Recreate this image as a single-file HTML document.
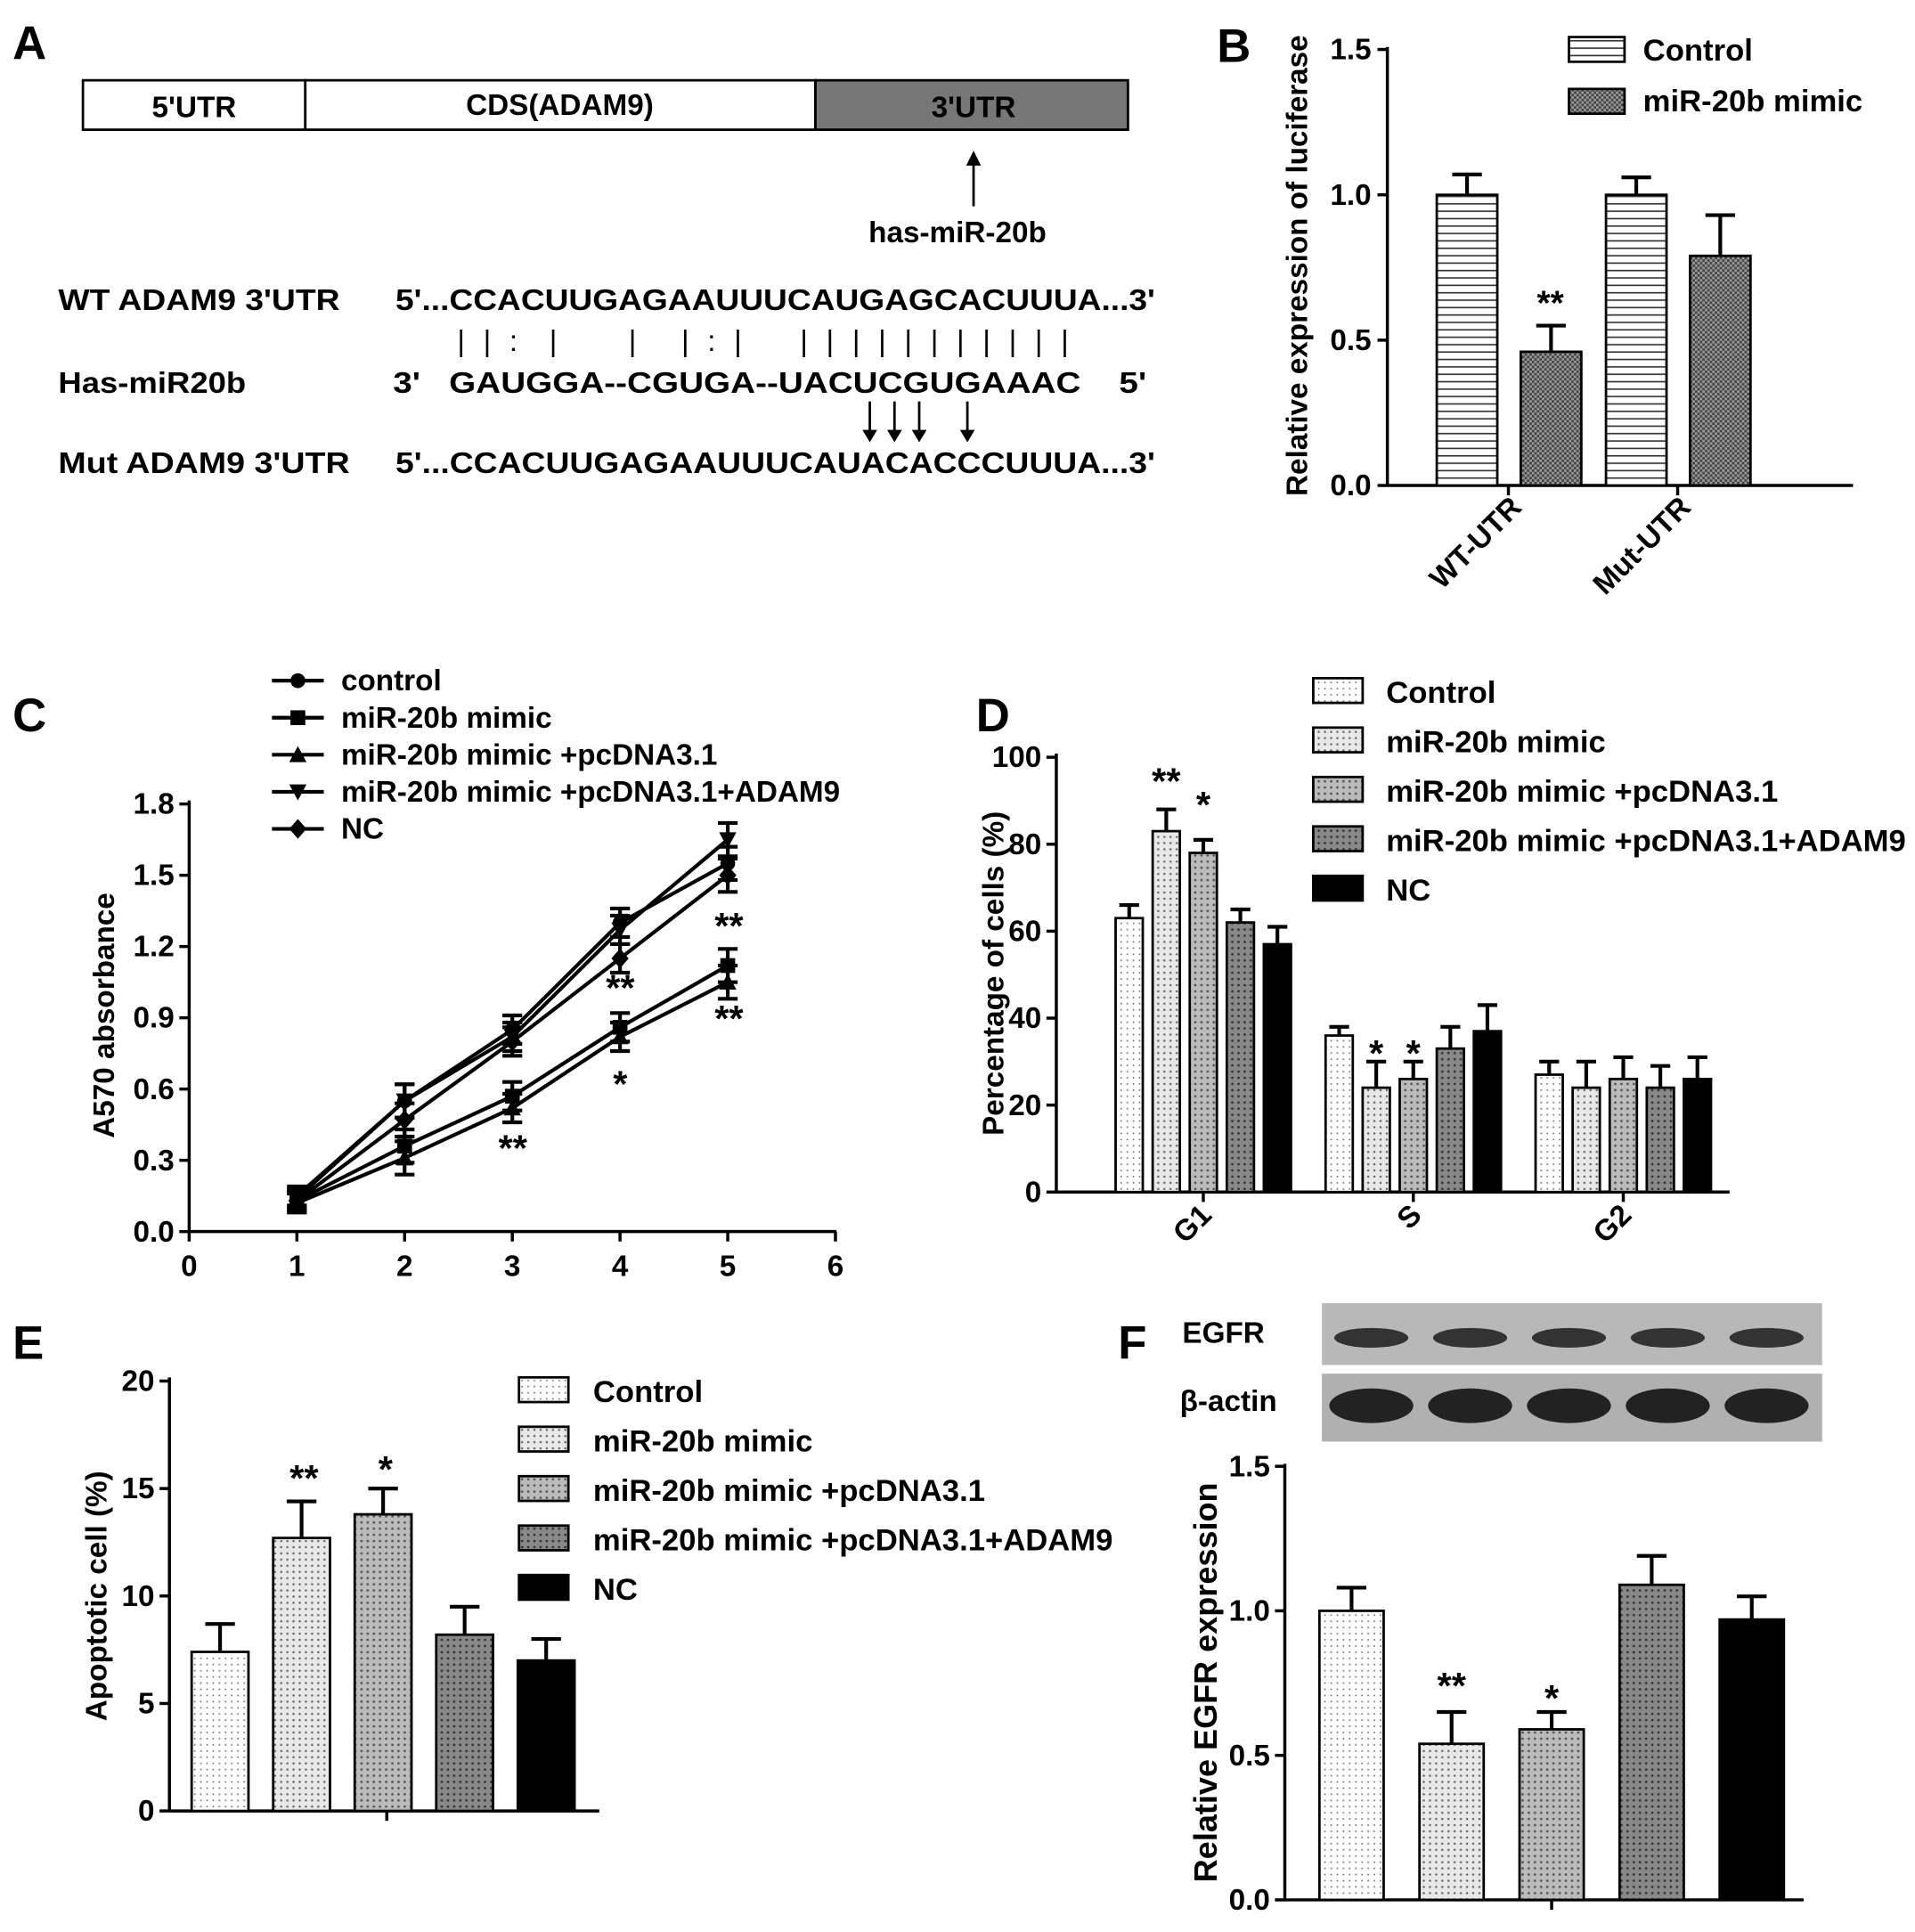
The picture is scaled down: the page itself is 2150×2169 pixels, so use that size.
<!DOCTYPE html>
<html><head><meta charset="utf-8"><style>
body{margin:0;background:#fff}
svg{display:block;font-family:"Liberation Sans",Arial,sans-serif;font-weight:bold}
</style></head><body>
<svg id="s" width="2150" height="2169" viewBox="0 0 1550 1564" xmlns="http://www.w3.org/2000/svg">
<defs>
<pattern id="hstripe" width="6" height="6" patternUnits="userSpaceOnUse"><rect width="6" height="6" fill="#fff"/><line x1="0" y1="3" x2="6" y2="3" stroke="#333" stroke-width="1.2"/></pattern>
<pattern id="check" width="4" height="4" patternUnits="userSpaceOnUse"><rect width="4" height="4" fill="#999"/><rect width="2" height="2" fill="#444"/><rect x="2" y="2" width="2" height="2" fill="#444"/></pattern>
<pattern id="p0" width="5" height="5" patternUnits="userSpaceOnUse"><rect width="5" height="5" fill="#fff"/><circle cx="2.5" cy="2.5" r="0.7" fill="#777"/></pattern>
<pattern id="p1" width="5" height="5" patternUnits="userSpaceOnUse"><rect width="5" height="5" fill="#e8e8e8"/><circle cx="2.5" cy="2.5" r="0.9" fill="#666"/></pattern>
<pattern id="p2" width="5" height="5" patternUnits="userSpaceOnUse"><rect width="5" height="5" fill="#bbb"/><circle cx="2.5" cy="2.5" r="1" fill="#555"/></pattern>
<pattern id="p3" width="5" height="5" patternUnits="userSpaceOnUse"><rect width="5" height="5" fill="#888"/><circle cx="2.5" cy="2.5" r="1" fill="#333"/></pattern>
<pattern id="p4" width="5" height="5" patternUnits="userSpaceOnUse"><rect width="5" height="5" fill="#000"/></pattern>
</defs>
<g id="A" font-size="24">
<text x="10" y="48" font-size="38">A</text>
<rect x="67" y="65" width="180" height="40" fill="#fff" stroke="#000" stroke-width="2"/>
<rect x="247" y="65" width="413" height="40" fill="#fff" stroke="#000" stroke-width="2"/>
<rect x="660" y="65" width="253" height="40" fill="#777" stroke="#000" stroke-width="2"/>
<text x="157" y="95" text-anchor="middle">5'UTR</text>
<text x="453" y="93" text-anchor="middle">CDS(ADAM9)</text>
<text x="788" y="95" text-anchor="middle">3'UTR</text>
<line x1="788" y1="167" x2="788" y2="130" stroke="#000" stroke-width="2"/><path d="M782,134 L788,122 L794,134Z"/>
<text x="775" y="196" text-anchor="middle">has-miR-20b</text>
<text x="47" y="251" textLength="228" lengthAdjust="spacingAndGlyphs">WT ADAM9 3'UTR</text>
<text x="47" y="318" textLength="152" lengthAdjust="spacingAndGlyphs">Has-miR20b</text>
<text x="47" y="383" textLength="236" lengthAdjust="spacingAndGlyphs">Mut ADAM9 3'UTR</text>
<text x="320" y="251" textLength="615" lengthAdjust="spacingAndGlyphs">5'...CCACUUGAGAAUUUCAUGAGCACUUUA...3'</text>
<text x="370" y="284" xml:space="preserve" font-weight="normal" textLength="495" lengthAdjust="spacing">| | :  |     |   | : |    | | | | | | | | | | |</text>
<text x="318" y="318" xml:space="preserve" textLength="610" lengthAdjust="spacingAndGlyphs">3'   GAUGGA--CGUGA--UACUCGUGAAAC    5'</text>
<text x="320" y="383" textLength="615" lengthAdjust="spacingAndGlyphs">5'...CCACUUGAGAAUUUCAUACACCCUUUA...3'</text>
<g stroke="#000" stroke-width="2"><line x1="704" y1="325" x2="704" y2="352"/><line x1="724" y1="325" x2="724" y2="352"/><line x1="744" y1="325" x2="744" y2="352"/><line x1="783" y1="325" x2="783" y2="352"/></g>
<path d="M698,348L704,358L710,348ZM718,348L724,358L730,348ZM738,348L744,358L750,348ZM777,348L783,358L789,348Z"/>
</g>
<g id="B"></g>
<g id="C"></g>
<g id="D"></g>
<g id="E"></g>
<g id="F"></g>
</svg>
<script>
// Panel B data
const bCats=["WT-UTR","Mut-UTR"];
const bControl=[1.0,1.0];
const bMimic=[0.46,0.79];
const bCtrlErr=[0.07,0.06];
const bMimErr=[0.09,0.14];
const bTicks=[0,0.5,1.0,1.5];
// Panel C data
const cX=[1,2,3,4,5];
const cNames=["control","miR-20b mimic","miR-20b mimic +pcDNA3.1","miR-20b mimic +pcDNA3.1+ADAM9","NC"];
const cControl=[0.15,0.55,0.85,1.30,1.55];
const cMimic=[0.13,0.36,0.57,0.86,1.12];
const cPc=[0.12,0.31,0.52,0.82,1.05];
const cAdam=[0.14,0.55,0.82,1.27,1.65];
const cNC=[0.13,0.47,0.80,1.15,1.50];
const cErr=[0.04,0.07,0.06,0.06,0.07];
const cYTicks=[0,0.3,0.6,0.9,1.2,1.5,1.8];
const cXTicks=[0,1,2,3,4,5,6];
// Panel D data
const dCats=["G1","S","G2"];
const dNames=["Control","miR-20b mimic","miR-20b mimic +pcDNA3.1","miR-20b mimic +pcDNA3.1+ADAM9","NC"];
const dG1=[63,83,78,62,57];
const dS=[36,24,26,33,37];
const dG2=[27,24,26,24,26];
const dErr1=[3,5,3,3,4];
const dErrS=[2,6,4,5,6];
const dErr2=[3,6,5,5,5];
const dTicks=[0,20,40,60,80,100];
// Panel E data
const eVals=[7.4,12.7,13.8,8.2,7.0];
const eErr=[1.3,1.7,1.2,1.3,1.0];
const eTicks=[0,5,10,15,20];
// Panel F data
const fVals=[1.0,0.54,0.59,1.09,0.97];
const fErr=[0.08,0.11,0.06,0.10,0.08];
const fTicks=[0,0.5,1.0,1.5];

const FS=24;
const NS="http://www.w3.org/2000/svg";
function mk(parent,tag,attrs,text){const e=document.createElementNS(NS,tag);for(const k in attrs)e.setAttribute(k,attrs[k]);if(text!==undefined)e.textContent=text;parent.appendChild(e);return e;}
function errBar(g,x,y1,y2,w){mk(g,"line",{x1:x,y1:y1,x2:x,y2:y2,stroke:"#000","stroke-width":3});mk(g,"line",{x1:x-w,y1:y2,x2:x+w,y2:y2,stroke:"#000","stroke-width":3});}
const fills=["url(#p0)","url(#p1)","url(#p2)","url(#p3)","url(#p4)"];

// ---- B
(function(){const g=document.getElementById("B");
const y=v=>393-v*235.3;
let t=mk(g,"text",{x:985,y:50,"font-size":38},"B");
mk(g,"line",{x1:1123,y1:38,x2:1123,y2:393,stroke:"#000","stroke-width":2.5});
mk(g,"line",{x1:1123,y1:393,x2:1500,y2:393,stroke:"#000","stroke-width":2.5});
bTicks.forEach(v=>{mk(g,"line",{x1:1115,y1:y(v),x2:1123,y2:y(v),stroke:"#000","stroke-width":2.5});
 t=mk(g,"text",{x:1110,y:y(v)+8,"text-anchor":"end","font-size":FS},v.toFixed(1));});
t=mk(g,"text",{x:1058,y:215,"text-anchor":"middle","font-size":FS,transform:"rotate(-90 1058 215)"},"Relative expression of luciferase");
const xs=[1163,1300];
bCats.forEach((c,i)=>{
 let r=mk(g,"rect",{x:xs[i],y:y(bControl[i]),width:49,height:393-y(bControl[i]),fill:"url(#hstripe)",stroke:"#000","stroke-width":2});
 errBar(g,xs[i]+24.5,y(bControl[i]),y(bControl[i]+bCtrlErr[i]),12);
 r=mk(g,"rect",{x:xs[i]+68,y:y(bMimic[i]),width:49,height:393-y(bMimic[i]),fill:"url(#check)",stroke:"#000","stroke-width":2});
 errBar(g,xs[i]+92.5,y(bMimic[i]),y(bMimic[i]+bMimErr[i]),12);
 const cx=xs[i]+58;
 mk(g,"line",{x1:cx,y1:393,x2:cx,y2:401,stroke:"#000","stroke-width":2.5});
 t=mk(g,"text",{x:cx+12,y:412,"text-anchor":"end","font-size":FS,transform:`rotate(-45 ${cx+12} 412)`},c);
});
t=mk(g,"text",{x:1255,y:255,"text-anchor":"middle","font-size":28},"**");
mk(g,"rect",{x:1270,y:30,width:45,height:20,fill:"url(#hstripe)",stroke:"#000","stroke-width":2});
mk(g,"rect",{x:1270,y:72,width:45,height:20,fill:"url(#check)",stroke:"#000","stroke-width":2});
t=mk(g,"text",{x:1330,y:49,"font-size":25},"Control");
t=mk(g,"text",{x:1330,y:90,"font-size":25},"miR-20b mimic");
})();

// ---- C
(function(){const g=document.getElementById("C");
const x=v=>153+v*87.2, y=v=>997-v*192.3;
let t=mk(g,"text",{x:10,y:592,"font-size":38},"C");
mk(g,"line",{x1:153,y1:648,x2:153,y2:997,stroke:"#000","stroke-width":2.5});
mk(g,"line",{x1:153,y1:997,x2:677,y2:997,stroke:"#000","stroke-width":2.5});
cYTicks.forEach(v=>{mk(g,"line",{x1:145,y1:y(v),x2:153,y2:y(v),stroke:"#000","stroke-width":2.5});
 t=mk(g,"text",{x:141,y:y(v)+8,"text-anchor":"end","font-size":FS},v.toFixed(1));});
cXTicks.forEach(v=>{mk(g,"line",{x1:x(v),y1:997,x2:x(v),y2:1005,stroke:"#000","stroke-width":2.5});
 t=mk(g,"text",{x:x(v),y:1033,"text-anchor":"middle","font-size":FS},String(v));});
t=mk(g,"text",{x:92,y:822,"text-anchor":"middle","font-size":FS,transform:"rotate(-90 92 822)"},"A570 absorbance");
const series=[cControl,cMimic,cPc,cAdam,cNC];
function marker(gg,px,py,k,s){
 if(k===0)mk(gg,"circle",{cx:px,cy:py,r:s});
 else if(k===1)mk(gg,"rect",{x:px-s,y:py-s,width:2*s,height:2*s});
 else if(k===2)mk(gg,"path",{d:`M${px-s-1},${py+s} L${px},${py-s-1} L${px+s+1},${py+s}Z`});
 else if(k===3)mk(gg,"path",{d:`M${px-s-1},${py-s} L${px},${py+s+1} L${px+s+1},${py-s}Z`});
 else mk(gg,"path",{d:`M${px},${py-s-2} L${px+s+1},${py} L${px},${py+s+2} L${px-s-1},${py}Z`});
}
series.forEach((arr,k)=>{
 const sg=mk(g,"g",{});
 const pts=arr.map((v,i)=>x(cX[i])+","+y(v)).join(" ");
 mk(sg,"polyline",{points:pts,fill:"none",stroke:"#000","stroke-width":3});
 arr.forEach((v,i)=>{
  errBar(sg,x(cX[i]),y(v-cErr[i]),y(v+cErr[i]),8);
  mk(sg,"line",{x1:x(cX[i])-8,y1:y(v-cErr[i]),x2:x(cX[i])+8,y2:y(v-cErr[i]),stroke:"#000","stroke-width":3});
  marker(sg,x(cX[i]),y(v),k,6);
 });
 mk(sg,"line",{x1:220,y1:551+k*30,x2:262,y2:551+k*30,stroke:"#000","stroke-width":3});
 marker(sg,241,551+k*30,k,6);
 t=mk(sg,"text",{x:276,y:559+k*30,"font-size":FS},cNames[k]);
});
[[415,940,"**"],[502,810,"**"],[502,888,"*"],[590,760,"**"],[590,835,"**"]].forEach(a=>{t=mk(g,"text",{x:a[0],y:a[1],"text-anchor":"middle","font-size":30},a[2]);});
})();

// ---- D
(function(){const g=document.getElementById("D");
const y=v=>965-v*3.52;
let t=mk(g,"text",{x:790,y:592,"font-size":38},"D");
mk(g,"line",{x1:855,y1:610,x2:855,y2:965,stroke:"#000","stroke-width":2.5});
mk(g,"line",{x1:855,y1:965,x2:1400,y2:965,stroke:"#000","stroke-width":2.5});
dTicks.forEach(v=>{mk(g,"line",{x1:847,y1:y(v),x2:855,y2:y(v),stroke:"#000","stroke-width":2.5});
 t=mk(g,"text",{x:843,y:y(v)+8,"text-anchor":"end","font-size":FS},String(v));});
t=mk(g,"text",{x:812,y:788,"text-anchor":"middle","font-size":FS,transform:"rotate(-90 812 788)"},"Percentage of cells (%)");
const groups=[dG1,dS,dG2],errs=[dErr1,dErrS,dErr2],starts=[903,1073,1243];
groups.forEach((arr,gi)=>{
 arr.forEach((v,i)=>{const bx=starts[gi]+i*30;
  let r=mk(g,"rect",{x:bx,y:y(v),width:22,height:965-y(v),fill:fills[i],stroke:"#000","stroke-width":2});
  errBar(g,bx+11,y(v),y(v+errs[gi][i]),8);});
 const cx=starts[gi]+71;
 mk(g,"line",{x1:cx,y1:965,x2:cx,y2:973,stroke:"#000","stroke-width":2.5});
 t=mk(g,"text",{x:cx+8,y:985,"text-anchor":"end","font-size":FS,transform:`rotate(-45 ${cx+8} 985)`},dCats[gi]);
});
[[944,643,"**"],[974,662,"*"],[1114,863,"*"],[1144,863,"*"]].forEach(a=>{t=mk(g,"text",{x:a[0],y:a[1],"text-anchor":"middle","font-size":30},a[2]);});
dNames.forEach((n,i)=>{mk(g,"rect",{x:1063,y:549+i*40,width:40,height:20,fill:fills[i],stroke:"#000","stroke-width":2});
 t=mk(g,"text",{x:1122,y:569+i*40,"font-size":25},n);});
})();

// ---- E
(function(){const g=document.getElementById("E");
const y=v=>1466-v*17.4;
let t=mk(g,"text",{x:10,y:1100,"font-size":38},"E");
mk(g,"line",{x1:137,y1:1115,x2:137,y2:1466,stroke:"#000","stroke-width":2.5});
mk(g,"line",{x1:137,y1:1466,x2:485,y2:1466,stroke:"#000","stroke-width":2.5});
mk(g,"line",{x1:313,y1:1466,x2:313,y2:1474,stroke:"#000","stroke-width":2.5});
eTicks.forEach(v=>{mk(g,"line",{x1:129,y1:y(v),x2:137,y2:y(v),stroke:"#000","stroke-width":2.5});
 t=mk(g,"text",{x:125,y:y(v)+8,"text-anchor":"end","font-size":FS},String(v));});
t=mk(g,"text",{x:86,y:1292,"text-anchor":"middle","font-size":FS,transform:"rotate(-90 86 1292)"},"Apoptotic cell (%)");
eVals.forEach((v,i)=>{const bx=155+i*66;
 let r=mk(g,"rect",{x:bx,y:y(v),width:46,height:1466-y(v),fill:fills[i],stroke:"#000","stroke-width":2});
 errBar(g,bx+23,y(v),y(v+eErr[i]),12);});
[[246,1207,"**"],[312,1200,"*"]].forEach(a=>{t=mk(g,"text",{x:a[0],y:a[1],"text-anchor":"middle","font-size":30},a[2]);});
dNames.forEach((n,i)=>{mk(g,"rect",{x:420,y:1115+i*40,width:40,height:20,fill:fills[i],stroke:"#000","stroke-width":2});
 t=mk(g,"text",{x:480,y:1135+i*40,"font-size":25},n);});
})();

// ---- F
(function(){const g=document.getElementById("F");
const y=v=>1538-v*234;
let t=mk(g,"text",{x:905,y:1100,"font-size":38},"F");
let r=mk(g,"rect",{x:1070,y:1055,width:405,height:50,fill:"#b8b8b8"});
r=mk(g,"rect",{x:1070,y:1112,width:405,height:55,fill:"#b0b0b0"});
for(let i=0;i<5;i++){const cx=1110+i*80;
 mk(g,"ellipse",{cx:cx,cy:1083,rx:30,ry:8,fill:"#333"});
 mk(g,"ellipse",{cx:cx,cy:1138,rx:34,ry:14,fill:"#222"});}
t=mk(g,"text",{x:957,y:1087,"font-size":FS},"EGFR");
t=mk(g,"text",{x:955,y:1142,"font-size":FS},"β-actin");
mk(g,"line",{x1:1040,y1:1185,x2:1040,y2:1538,stroke:"#000","stroke-width":2.5});
mk(g,"line",{x1:1040,y1:1538,x2:1460,y2:1538,stroke:"#000","stroke-width":2.5});
mk(g,"line",{x1:1256,y1:1538,x2:1256,y2:1546,stroke:"#000","stroke-width":2.5});
fTicks.forEach(v=>{mk(g,"line",{x1:1032,y1:y(v),x2:1040,y2:y(v),stroke:"#000","stroke-width":2.5});
 t=mk(g,"text",{x:1028,y:y(v)+8,"text-anchor":"end","font-size":FS},v.toFixed(1));});
t=mk(g,"text",{x:985,y:1362,"text-anchor":"middle","font-size":26,transform:"rotate(-90 985 1362)"},"Relative EGFR expression");
fVals.forEach((v,i)=>{const bx=1068+i*81;
 r=mk(g,"rect",{x:bx,y:y(v),width:52,height:1538-y(v),fill:fills[i],stroke:"#000","stroke-width":2});
 errBar(g,bx+26,y(v),y(v+fErr[i]),12);});
[[1175,1375,"**"],[1256,1385,"*"]].forEach(a=>{t=mk(g,"text",{x:a[0],y:a[1],"text-anchor":"middle","font-size":30},a[2]);});
})();
</script>
</body></html>
